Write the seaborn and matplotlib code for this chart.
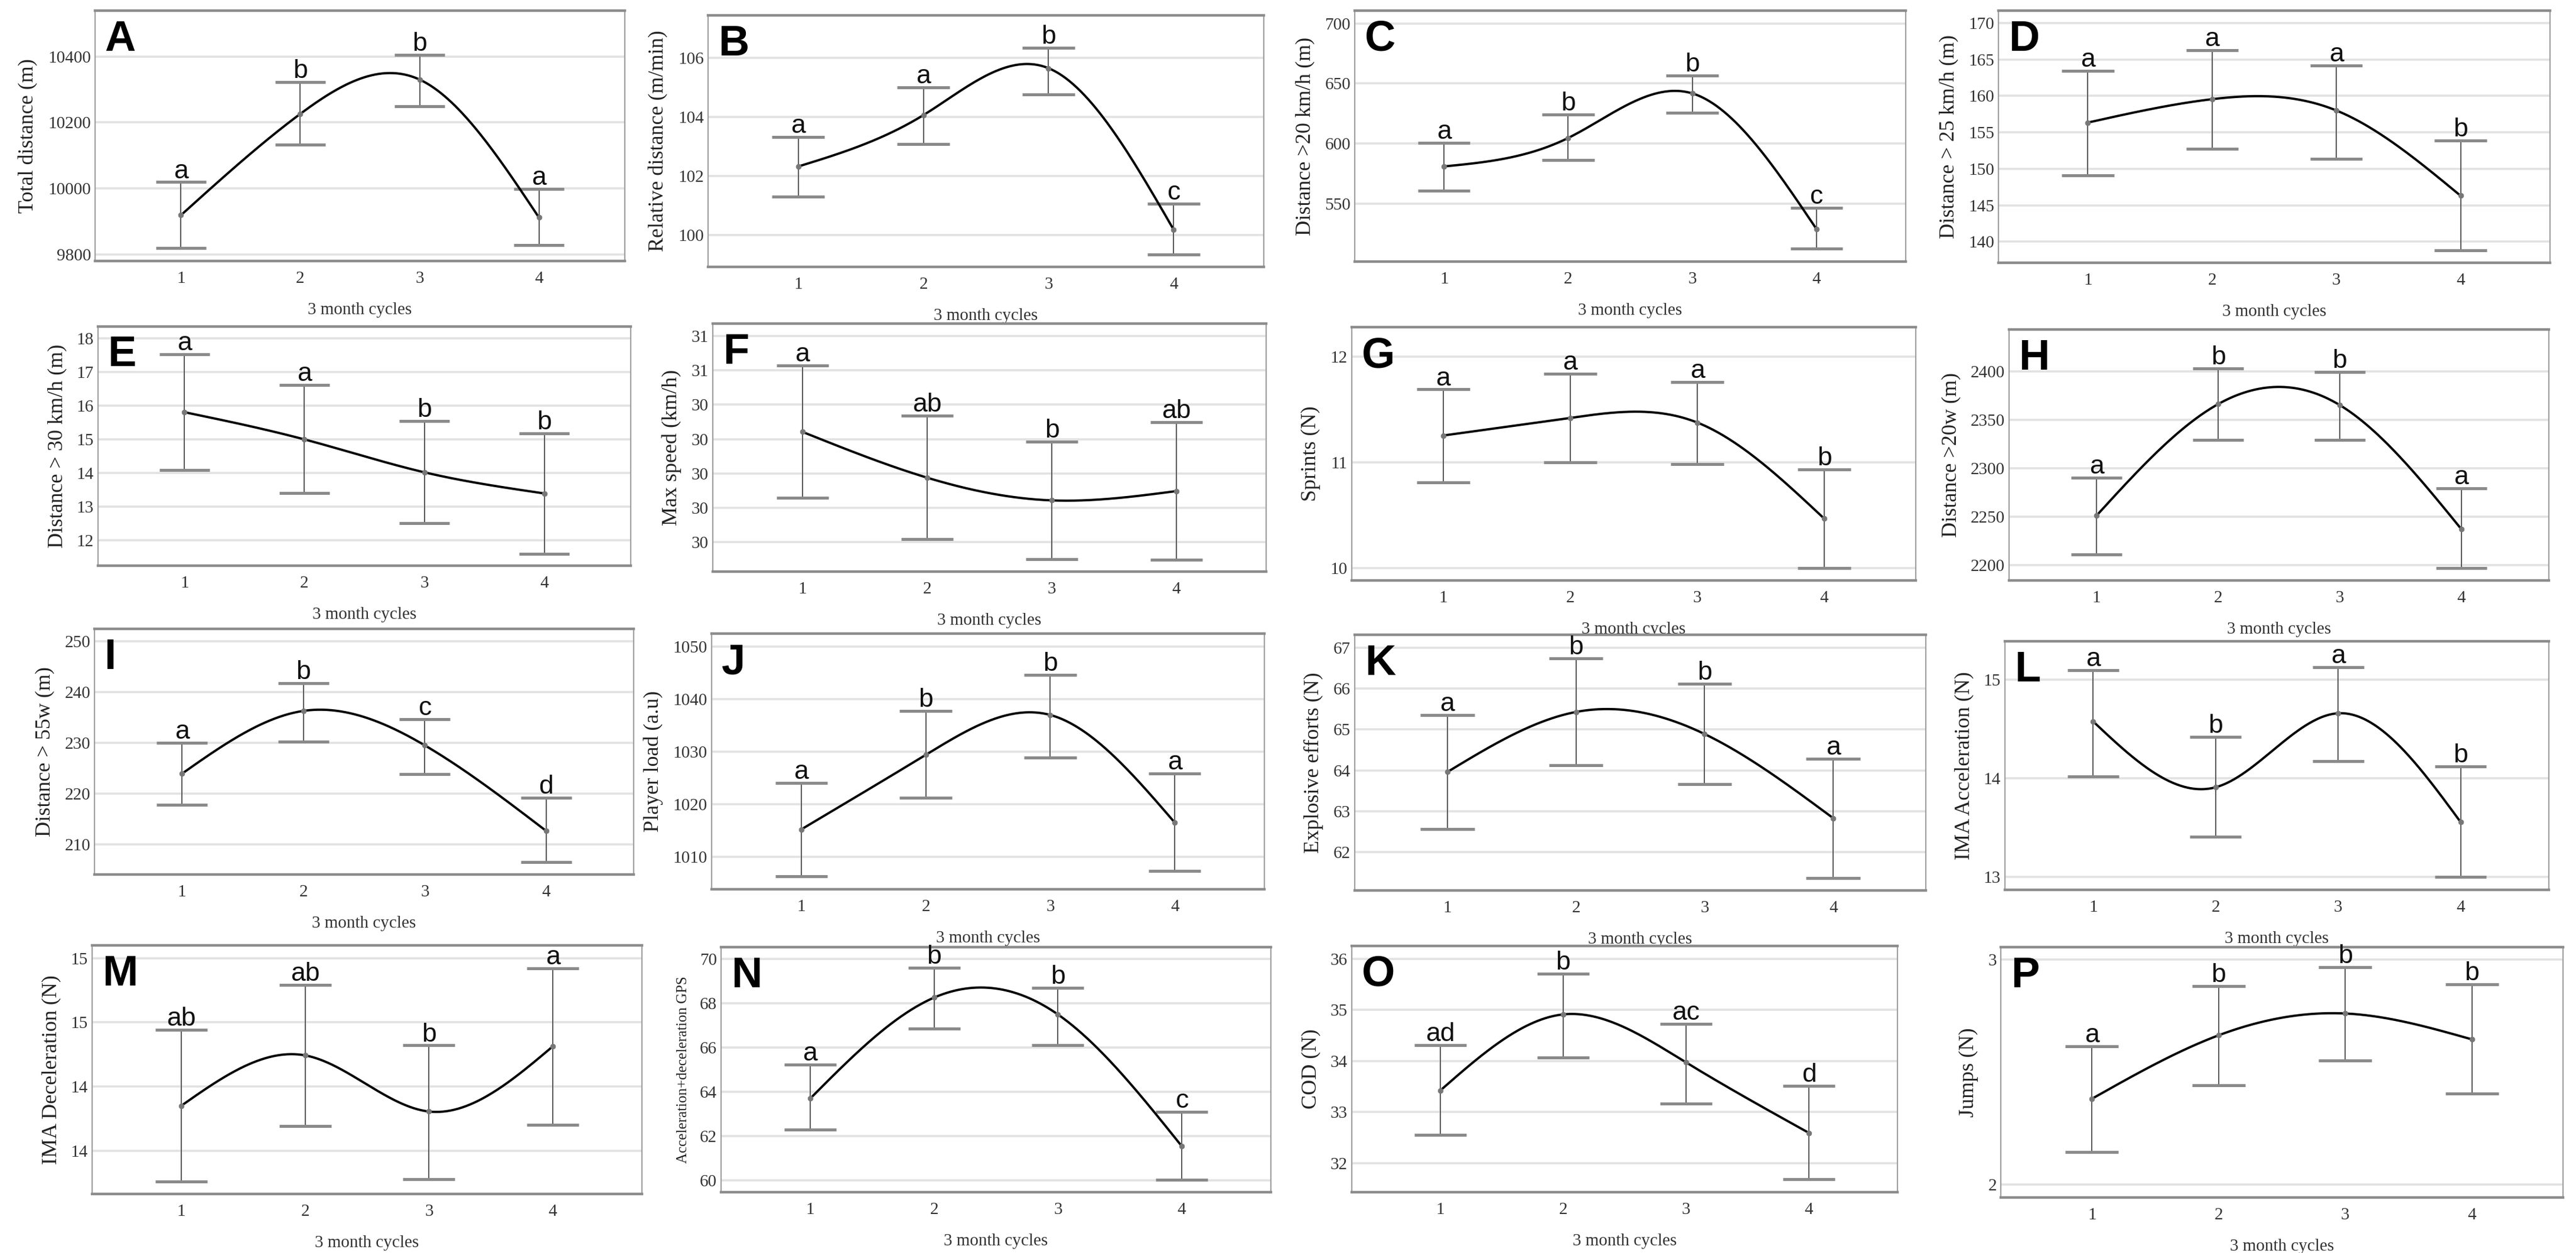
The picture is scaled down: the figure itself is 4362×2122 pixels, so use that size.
import numpy as np
import matplotlib.pyplot as plt
import seaborn as sns

sns.set_style("white")
plt.rcParams["font.family"] = ["Liberation Serif", "DejaVu Serif"]

cycles = [1, 2, 3, 4]

# A - total distance
total_mean = [9919, 10226, 10330, 9912]
total_low = [9820, 10133, 10249, 9828]
total_high = [10019, 10323, 10405, 9998]
total_sig = ["a", "b", "b", "a"]
total_ticks = [9800, 10000, 10200, 10400]

# B - relative distance
rel_mean = [102.32, 104.06, 105.65, 100.18]
rel_low = [101.30, 103.09, 104.77, 99.34]
rel_high = [103.32, 105.01, 106.34, 101.06]
rel_sig = ["a", "a", "b", "c"]
rel_ticks = [100, 102, 104, 106]

# C - distance > 20 km/h
d20_mean = [580.9, 604.6, 641.7, 528.9]
d20_low = [560.6, 586.0, 625.7, 512.3]
d20_high = [600.7, 624.0, 656.6, 546.3]
d20_sig = ["a", "b", "b", "c"]
d20_ticks = [550, 600, 650, 700]

# D - distance > 25 km/h
d25_mean = [156.34, 159.55, 158.0, 146.3]
d25_low = [149.13, 152.75, 151.4, 138.8]
d25_high = [163.47, 166.25, 164.17, 153.9]
d25_sig = ["a", "a", "a", "b"]
d25_ticks = [140, 145, 150, 155, 160, 165, 170]

# E - distance > 30 km/h
d30_mean = [15.81, 15.0, 14.02, 13.39]
d30_low = [14.09, 13.4, 12.5, 11.6]
d30_high = [17.53, 16.62, 15.55, 15.18]
d30_sig = ["a", "a", "b", "b"]
d30_ticks = [12, 13, 14, 15, 16, 17, 18]

# F - max speed (tick labels are rounded in the original)
speed_mean = [30.421, 30.288, 30.222, 30.249]
speed_low = [30.229, 30.109, 30.051, 30.05]
speed_high = [30.614, 30.469, 30.392, 30.45]
speed_sig = ["a", "ab", "b", "ab"]
speed_ticks = [30.1, 30.2, 30.3, 30.4, 30.5, 30.6, 30.7]
speed_ticklabels = ["30", "30", "30", "30", "30", "31", "31"]

# G - sprints
sprint_mean = [11.253, 11.42, 11.376, 10.465]
sprint_low = [10.81, 11.0, 10.98, 10.0]
sprint_high = [11.69, 11.84, 11.76, 10.93]
sprint_sig = ["a", "a", "a", "b"]
sprint_ticks = [10, 11, 12]

# H - distance > 20w
w20_mean = [2251, 2366, 2365, 2237]
w20_low = [2211, 2329, 2329, 2197]
w20_high = [2290, 2403, 2399, 2279]
w20_sig = ["a", "b", "b", "a"]
w20_ticks = [2200, 2250, 2300, 2350, 2400]

# I - distance > 55w
w55_mean = [223.9, 236.3, 229.5, 212.6]
w55_low = [217.8, 230.2, 223.8, 206.4]
w55_high = [230.0, 241.8, 234.7, 219.2]
w55_sig = ["a", "b", "c", "d"]
w55_ticks = [210, 220, 230, 240, 250]

# J - player load
load_mean = [1015.2, 1029.4, 1037.0, 1016.5]
load_low = [1006.3, 1021.2, 1028.9, 1007.3]
load_high = [1024.0, 1037.8, 1044.6, 1025.8]
load_sig = ["a", "b", "b", "a"]
load_ticks = [1010, 1020, 1030, 1040, 1050]

# K - explosive efforts
expl_mean = [63.96, 65.43, 64.89, 62.83]
expl_low = [62.56, 64.12, 63.66, 61.37]
expl_high = [65.36, 66.74, 66.12, 64.29]
expl_sig = ["a", "b", "b", "a"]
expl_ticks = [62, 63, 64, 65, 66, 67]

# L - IMA acceleration
imaacc_mean = [14.577, 13.91, 14.66, 13.557]
imaacc_low = [14.02, 13.408, 14.175, 13.0]
imaacc_high = [15.097, 14.419, 15.128, 14.124]
imaacc_sig = ["a", "b", "a", "b"]
imaacc_ticks = [13, 14, 15]

# M - IMA deceleration (tick labels are rounded in the original)
imadec_mean = [14.340, 14.497, 14.322, 14.525]
imadec_low = [14.104, 14.276, 14.111, 14.281]
imadec_high = [14.577, 14.717, 14.528, 14.769]
imadec_sig = ["ab", "ab", "b", "a"]
imadec_ticks = [14.2, 14.4, 14.6, 14.8]
imadec_ticklabels = ["14", "14", "15", "15"]

# N - acceleration + deceleration GPS
accdec_mean = [63.70, 68.26, 67.5, 61.55]
accdec_low = [62.30, 66.85, 66.12, 60.03]
accdec_high = [65.23, 69.6, 68.71, 63.11]
accdec_sig = ["a", "b", "b", "c"]
accdec_ticks = [60, 62, 64, 66, 68, 70]

# O - COD
cod_mean = [33.42, 34.91, 33.97, 32.59]
cod_low = [32.55, 34.06, 33.16, 31.68]
cod_high = [34.31, 35.71, 34.73, 33.51]
cod_sig = ["ad", "b", "ac", "d"]
cod_ticks = [32, 33, 34, 35, 36]

# P - jumps
jump_mean = [2.382, 2.664, 2.761, 2.646]
jump_low = [2.146, 2.443, 2.553, 2.405]
jump_high = [2.615, 2.882, 2.967, 2.891]
jump_sig = ["a", "b", "b", "b"]
jump_ticks = [2, 3]

panels = [
    ("A", "Total distance (m)", total_mean, total_low, total_high, total_sig, total_ticks, None, (9780, 10539)),
    ("B", "Relative distance (m/min)", rel_mean, rel_low, rel_high, rel_sig, rel_ticks, None, (98.92, 107.44)),
    ("C", "Distance >20 km/h (m)", d20_mean, d20_low, d20_high, d20_sig, d20_ticks, None, (501.7, 710.6)),
    ("D", "Distance > 25 km/h (m)", d25_mean, d25_low, d25_high, d25_sig, d25_ticks, None, (137.1, 171.7)),
    ("E", "Distance > 30 km/h (m)", d30_mean, d30_low, d30_high, d30_sig, d30_ticks, None, (11.24, 18.36)),
    ("F", "Max speed (km/h)", speed_mean, speed_low, speed_high, speed_sig, speed_ticks, speed_ticklabels, (30.015, 30.736)),
    ("G", "Sprints (N)", sprint_mean, sprint_low, sprint_high, sprint_sig, sprint_ticks, None, (9.88, 12.28)),
    ("H", "Distance >20w (m)", w20_mean, w20_low, w20_high, w20_sig, w20_ticks, None, (2184, 2443)),
    ("I", "Distance > 55w (m)", w55_mean, w55_low, w55_high, w55_sig, w55_ticks, None, (204.0, 252.5)),
    ("J", "Player load (a.u)", load_mean, load_low, load_high, load_sig, load_ticks, None, (1003.8, 1052.5)),
    ("K", "Explosive efforts (N)", expl_mean, expl_low, expl_high, expl_sig, expl_ticks, None, (61.06, 67.32)),
    ("L", "IMA Acceleration (N)", imaacc_mean, imaacc_low, imaacc_high, imaacc_sig, imaacc_ticks, None, (12.87, 15.39)),
    ("M", "IMA Deceleration (N)", imadec_mean, imadec_low, imadec_high, imadec_sig, imadec_ticks, imadec_ticklabels, (14.065, 14.84)),
    ("N", "Acceleration+deceleration GPS", accdec_mean, accdec_low, accdec_high, accdec_sig, accdec_ticks, None, (59.47, 70.54)),
    ("O", "COD (N)", cod_mean, cod_low, cod_high, cod_sig, cod_ticks, None, (31.43, 36.25)),
    ("P", "Jumps (N)", jump_mean, jump_low, jump_high, jump_sig, jump_ticks, None, (1.943, 3.056)),
]

# axes boxes in output pixels: left, top, right, bottom
W, H = 4362, 2122
boxes = [
    (161, 18, 1058, 442), (1199, 26, 2140, 452), (2294, 18, 3227, 443), (3384, 18, 4318, 445),
    (166, 553, 1068, 958), (1207, 548, 2144, 968), (2289, 554, 3244, 983), (3402, 558, 4316, 983),
    (160, 1065, 1073, 1481), (1205, 1073, 2141, 1506), (2294, 1075, 3261, 1508), (3395, 1086, 4316, 1507),
    (156, 1601, 1087, 2022), (1221, 1604, 2152, 2019), (2289, 1602, 3213, 2019), (3388, 1604, 4340, 2028),
]


def natural_spline(x, y, n=300):
    # natural cubic spline through the means (like the SPSS interpolation line)
    x = np.asarray(x, float)
    y = np.asarray(y, float)
    h = np.diff(x)
    k = len(x)
    A = np.zeros((k, k))
    r = np.zeros(k)
    A[0, 0] = A[-1, -1] = 1
    for i in range(1, k - 1):
        A[i, i - 1] = h[i - 1]
        A[i, i] = 2 * (h[i - 1] + h[i])
        A[i, i + 1] = h[i]
        r[i] = 6 * ((y[i + 1] - y[i]) / h[i] - (y[i] - y[i - 1]) / h[i - 1])
    M = np.linalg.solve(A, r)
    xs = np.linspace(x[0], x[-1], n)
    idx = np.clip(np.searchsorted(x, xs) - 1, 0, k - 2)
    t = (xs - x[idx]) / h[idx]
    hi = h[idx]
    ys = (M[idx] * (1 - t) ** 3 * hi ** 2 / 6 + M[idx + 1] * t ** 3 * hi ** 2 / 6
          + (y[idx] - M[idx] * hi ** 2 / 6) * (1 - t) + (y[idx + 1] - M[idx + 1] * hi ** 2 / 6) * t)
    return xs, ys


fig = plt.figure(figsize=(W / 200, H / 200), dpi=200)
cx = np.array(cycles)

for (letter, ylabel, mean, low, high, sig, ticks, ticklabels, ylim), box in zip(panels, boxes):
    l, t, r, b = box
    ax = fig.add_axes([l / W, 1 - b / H, (r - l) / W, (b - t) / H])

    xs, ys = natural_spline(cycles, mean)
    sns.lineplot(x=xs, y=ys, ax=ax, color="black", lw=1.4, sort=False, estimator=None, zorder=3)
    ax.vlines(cx, low, high, color="#555555", lw=0.7, zorder=2)
    ax.hlines(low, cx - 0.21, cx + 0.21, color="#8a8a8a", lw=1.8, zorder=2)
    ax.hlines(high, cx - 0.21, cx + 0.21, color="#8a8a8a", lw=1.8, zorder=2)
    sns.scatterplot(x=cycles, y=mean, ax=ax, s=10, color="#777777", edgecolor="#777777", zorder=4)

    for x, hv, s in zip(cycles, high, sig):
        ax.annotate(s, (x, hv), xytext=(0, 2.5), textcoords="offset points", ha="center",
                    va="baseline", fontsize=16, family="Liberation Sans", color="#111111")
    ax.text(0.018, 0.965, letter, transform=ax.transAxes, fontsize=26, weight="bold",
            family="Liberation Sans", va="top", ha="left", color="black")

    ax.set_xlim(0.28, 4.72)
    ax.set_ylim(*ylim)
    ax.set_xticks(cycles)
    ax.set_yticks(ticks)
    if ticklabels:
        ax.set_yticklabels(ticklabels)
    ax.yaxis.grid(True, color="#e2e2e2", lw=1.3)
    ax.xaxis.grid(False)
    ax.set_axisbelow(True)
    ax.tick_params(axis="both", length=0, labelsize=10.5, labelcolor="#333333")
    ax.tick_params(axis="x", pad=6)
    ax.tick_params(axis="y", pad=2.5)
    ax.set_xlabel("3 month cycles", fontsize=10.5, labelpad=10, color="#333333")
    ax.set_ylabel(ylabel, fontsize=9 if letter == "N" else 13, labelpad=6, color="#222222")

    for side in ["top", "bottom"]:
        ax.spines[side].set_color("#8c8c8c")
        ax.spines[side].set_linewidth(1.6)
    for side in ["left", "right"]:
        ax.spines[side].set_color("#a0a0a0")
        ax.spines[side].set_linewidth(0.8)

fig.savefig("out.png", dpi=200, facecolor="white")
